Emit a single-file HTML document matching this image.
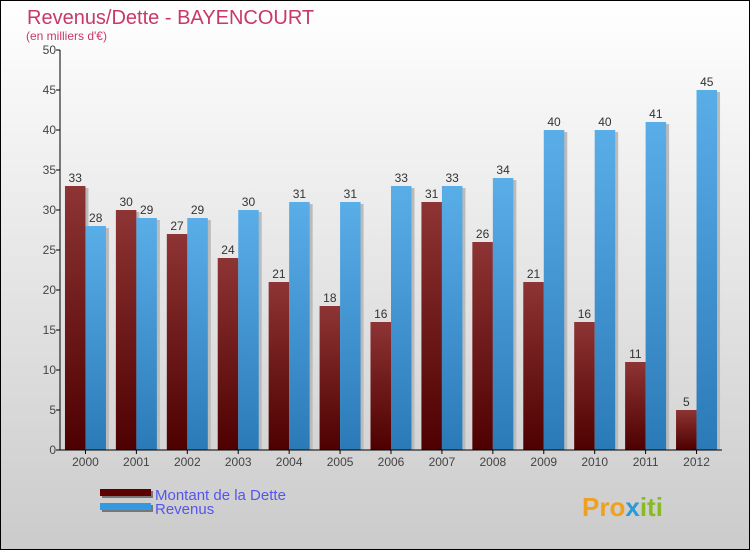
<!DOCTYPE html>
<html><head><meta charset="utf-8"><style>
body{margin:0;width:750px;height:550px;overflow:hidden;font-family:"Liberation Sans",sans-serif}
</style></head><body>
<svg width="750" height="550" xmlns="http://www.w3.org/2000/svg">
<defs>
<linearGradient id="bg" x1="0" y1="0" x2="0" y2="1"><stop offset="0" stop-color="#ffffff"/><stop offset="1" stop-color="#cbcbcb"/></linearGradient>
<linearGradient id="gd" x1="0" y1="0" x2="0" y2="1"><stop offset="0" stop-color="#8e3434"/><stop offset="1" stop-color="#4e0000"/></linearGradient>
<linearGradient id="gr" x1="0" y1="0" x2="0" y2="1"><stop offset="0" stop-color="#5aaee8"/><stop offset="1" stop-color="#2a7ab8"/></linearGradient>
</defs>
<rect x="0.5" y="0.5" width="749" height="549" fill="url(#bg)" stroke="#000"/>
<text x="27" y="24" font-size="20" fill="#c8386a">Revenus/Dette - BAYENCOURT</text>
<text x="26" y="40" font-size="12" fill="#c8386a">(en milliers d'€)</text>
<g id="plot"></g>
<g>
<rect x="102" y="491" width="51" height="7" fill="#777"/><rect x="100" y="489" width="51" height="7" fill="#5e0000"/>
<text x="155" y="500" font-size="15" fill="#5555ee">Montant de la Dette</text>
<rect x="102" y="505" width="51" height="7" fill="#777"/><rect x="100" y="503" width="51" height="7" fill="#3399e0"/>
<text x="155" y="514" font-size="15" fill="#5555ee">Revenus</text>
</g>
<text x="582" y="516" font-size="26" font-weight="bold" fill="#f0a020">Pro<tspan fill="#2a9ad8">x</tspan><tspan fill="#88bb22">iti</tspan></text>
</svg>
<script>
const years=["2000","2001","2002","2003","2004","2005","2006","2007","2008","2009","2010","2011","2012"];
const dette=[33,30,27,24,21,18,16,31,26,21,16,11,5];
const revenus=[28,29,29,30,31,31,33,33,34,40,40,41,45];
const yTicks=[0,5,10,15,20,25,30,35,40,45,50];
const NS="http://www.w3.org/2000/svg";
const g=document.getElementById('plot');
const x0=60,x1=722,yb=450,yt=50,ymax=50;
const gw=(x1-x0)/years.length;
const y=v=>yb-(v/ymax)*(yb-yt);
function mk(t,a){const e=document.createElementNS(NS,t);for(const k in a)e.setAttribute(k,a[k]);g.appendChild(e);return e;}
yTicks.forEach(v=>{
 const l=mk('line',{x1:x0-4,x2:x0,y1:y(v),y2:y(v),stroke:'#000'});
 
 
 const t=mk('text',{x:x0-4,y:y(v)+4,'font-size':12,fill:'#444','text-anchor':'end'});
 t.textContent=v;
 
 
});
years.forEach((yr,i)=>{
 const cx=x0+gw*(i+0.5);
 const bw=20.5;
 [[dette[i],cx-bw,'url(#gd)','bar-dette-'+yr],[revenus[i],cx,'url(#gr)','bar-revenus-'+yr]].forEach(([v,bx,f,n])=>{
  mk('rect',{x:bx+3,y:y(v)+2,width:bw,height:yb-y(v)-2,fill:'#bbb'});
  const r=mk('rect',{x:bx,y:y(v),width:bw,height:yb-y(v),fill:f});
  
  
  const t=mk('text',{x:bx+bw/2,y:y(v)-4,'font-size':12,fill:'#333','text-anchor':'middle'});
  t.textContent=v;
  
  
 });
 const tk=mk('line',{x1:cx,x2:cx,y1:yb,y2:yb+4,stroke:'#000'});
 
 
 const t=mk('text',{x:cx,y:yb+16,'font-size':12,fill:'#444','text-anchor':'middle'});
 t.textContent=yr;
 
 
});
const ax=mk('line',{x1:x0,x2:x0,y1:yt,y2:yb,stroke:'#000'});


const bx=mk('line',{x1:x0,x2:x1,y1:yb,y2:yb,stroke:'#000'});


</script>
</body></html>
